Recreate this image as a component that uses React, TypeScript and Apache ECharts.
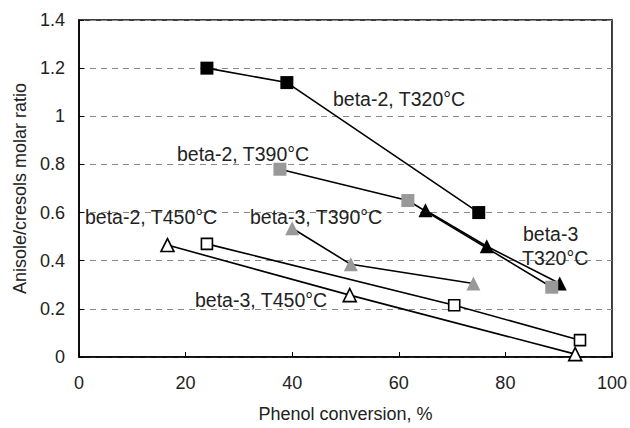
import React, { useEffect, useRef } from "react";
import * as echarts from "echarts";

const xTicks = { min: 0, max: 100, interval: 20 };
const yTicks = { min: 0, max: 1.4, interval: 0.2 };

const beta2T320: [number, number][] = [[24, 1.2], [39, 1.14], [75, 0.6]];
const beta2T390: [number, number][] = [[37.7, 0.78], [61.7, 0.65], [88.7, 0.29]];
const beta3T320: [number, number][] = [[65, 0.61], [76.5, 0.46], [90.2, 0.305]];
const beta3T390: [number, number][] = [[40, 0.535], [51, 0.385], [74, 0.305]];
const beta2T450: [number, number][] = [[24, 0.47], [70.4, 0.215], [94, 0.07]];
const beta3T450: [number, number][] = [[16.6, 0.465], [50.8, 0.257], [93.1, 0.012]];

const labels: { text: string; x: number; y: number }[] = [
  { text: "beta-2, T320°C", x: 333, y: 99 },
  { text: "beta-2, T390°C", x: 177, y: 154 },
  { text: "beta-2, T450°C", x: 85, y: 217 },
  { text: "beta-3, T390°C", x: 250, y: 217 },
  { text: "beta-3, T450°C", x: 195, y: 300 },
  { text: "beta-3", x: 523, y: 234 },
  { text: "T320°C", x: 522, y: 258 },
];

const FONT = "'Liberation Sans', Arial, sans-serif";
const GRAY = "#999999";

function mkSeries(
  name: string,
  data: [number, number][],
  symbol: string,
  size: number,
  fill: string,
  border: string,
  borderWidth: number
) {
  return {
    name,
    type: "line",
    data,
    symbol,
    symbolSize: size,
    lineStyle: { color: "#000", width: 1.6 },
    itemStyle: { color: fill, borderColor: border, borderWidth },
    emphasis: { disabled: true },
  };
}

export default function App() {
  const ref = useRef<HTMLDivElement>(null);
  useEffect(() => {
    if (!ref.current) return;
    const chart = echarts.init(ref.current, undefined, { renderer: "svg" });
    chart.setOption({
      animation: false,
      backgroundColor: "#fff",
      textStyle: { fontFamily: FONT },
      grid: {
        left: 79,
        right: 18,
        top: 20,
        bottom: 66,
        show: true,
        borderColor: "#000",
        borderWidth: 1.5,
      },
      xAxis: {
        type: "value",
        min: xTicks.min,
        max: xTicks.max,
        interval: xTicks.interval,
        name: "Phenol conversion, %",
        nameLocation: "middle",
        nameGap: 48,
        nameTextStyle: { fontSize: 18, color: "#222", fontFamily: FONT },
        axisLine: { show: true, lineStyle: { color: "#000", width: 1.5 } },
        axisTick: { show: true, inside: true, length: 5, lineStyle: { color: "#000" } },
        axisLabel: { fontSize: 18, color: "#222", margin: 17, fontFamily: FONT },
        splitLine: { show: false },
      },
      yAxis: {
        type: "value",
        min: yTicks.min,
        max: yTicks.max,
        interval: yTicks.interval,
        name: "Anisole/cresols molar ratio",
        nameLocation: "middle",
        nameGap: 48,
        nameTextStyle: { fontSize: 18, color: "#222", fontFamily: FONT },
        axisLine: { show: true, lineStyle: { color: "#000", width: 1.5 } },
        axisTick: { show: true, inside: true, length: 5, lineStyle: { color: "#000" } },
        axisLabel: { fontSize: 18, color: "#222", margin: 14, fontFamily: FONT },
        splitLine: {
          show: true,
          lineStyle: { color: "#888", type: [6, 5], width: 1.2 },
        },
      },
      series: [
        mkSeries("beta-2, T320°C", beta2T320, "rect", 13, "#000", "#000", 0),
        mkSeries("beta-3, T320°C", beta3T320, "triangle", 14, "#000", "#000", 0),
        mkSeries("beta-2, T390°C", beta2T390, "rect", 13, GRAY, GRAY, 0),
        mkSeries("beta-3, T390°C", beta3T390, "triangle", 14, GRAY, GRAY, 0),
        mkSeries("beta-2, T450°C", beta2T450, "rect", 11, "#fff", "#000", 1.6),
        mkSeries("beta-3, T450°C", beta3T450, "triangle", 13, "#fff", "#000", 1.6),
      ],
      graphic: labels.map((l) => ({
        type: "text",
        x: l.x,
        y: l.y,
        z: 100,
        style: {
          text: l.text,
          fontSize: 19.5,
          fontFamily: FONT,
          fill: "#222",
          textVerticalAlign: "middle",
          verticalAlign: "middle",
        },
      })),
    });
    return () => chart.dispose();
  }, []);
  return (
    <div
      ref={ref}
      style={{ position: "fixed", left: 0, top: 0, width: 630, height: 428, background: "#fff" }}
    />
  );
}
